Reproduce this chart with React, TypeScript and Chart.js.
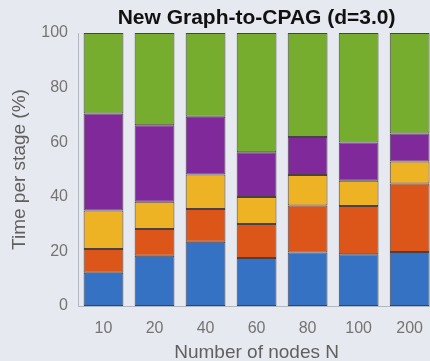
import { useEffect, useRef } from 'react';
import { Chart, registerables } from 'chart.js';

Chart.register(...registerables);

// Share of run time spent in each pipeline stage, per graph size N
const nodeCounts = ['10', '20', '40', '60', '80', '100', '200'];
const stage1 = [12.2, 18.4, 23.5, 17.6, 19.6, 19.0, 19.8];
const stage2 = [8.7, 9.8, 12.0, 12.4, 17.2, 17.6, 25.1];
const stage3 = [14.1, 10.0, 12.7, 9.9, 11.2, 9.3, 8.0];
const stage4 = [35.5, 28.0, 21.1, 16.4, 13.9, 14.0, 10.3];
const stage5 = [29.5, 33.8, 30.7, 43.7, 38.1, 40.1, 36.8];
const yTicks = [0, 20, 40, 60, 80, 100];

const chartTitle = 'New Graph-to-CPAG (d=3.0)';
const xTitle = 'Number of nodes N';
const yTitle = 'Time per stage (%)';

const BG = '#e6e9ef';
const FONT = '"Liberation Sans", Arial, sans-serif';
const W = 436;
const H = 364;
const AXIS_Y = 306;

// Title centred over the plot area rather than the whole canvas
const plotTitle = {
  id: 'plotTitle',
  afterDraw(chart: any) {
    const { ctx, chartArea } = chart;
    ctx.save();
    ctx.font = `bold 21px ${FONT}`;
    ctx.fillStyle = '#111111';
    ctx.textAlign = 'center';
    ctx.textBaseline = 'middle';
    ctx.fillText(chartTitle, (chartArea.left + chartArea.right) / 2, 18.5);
    ctx.restore();
  },
};

export default function App() {
  const canvasRef = useRef<HTMLCanvasElement | null>(null);

  useEffect(() => {
    if (!canvasRef.current) return;
    const mk = (label: string, data: number[], color: string) => ({
      label,
      data,
      backgroundColor: color,
      borderColor: 'rgba(45,35,40,0.85)',
      borderWidth: 1,
      borderSkipped: false,
      barPercentage: 0.78,
      categoryPercentage: 1,
    });
    const chart = new Chart(canvasRef.current, {
      type: 'bar',
      data: {
        labels: nodeCounts,
        datasets: [
          mk('Stage 1', stage1, '#3572c4'),
          mk('Stage 2', stage2, '#dc5619'),
          mk('Stage 3', stage3, '#eeb324'),
          mk('Stage 4', stage4, '#80299a'),
          mk('Stage 5', stage5, '#77ad2e'),
        ],
      },
      options: {
        responsive: false,
        animation: false,
        layout: { padding: { top: 33, left: 0, right: 0, bottom: 0 } },
        plugins: {
          legend: { display: false },
          title: { display: false },
          tooltip: { enabled: false },
        },
        scales: {
          x: {
            stacked: true,
            grid: { display: false, drawTicks: false },
            border: { display: true, color: '#b3b7bf' },
            ticks: {
              color: '#747474',
              font: { family: FONT, size: 16 },
              padding: 13,
            },
            title: {
              display: true,
              text: xTitle,
              color: '#606060',
              font: { family: FONT, size: 19, lineHeight: 1.2 },
              padding: { top: 0, bottom: 0 },
            },
            afterFit(scale: any) {
              scale.height = H - AXIS_Y;
            },
          },
          y: {
            stacked: true,
            min: 0,
            max: 100,
            afterBuildTicks(scale: any) {
              scale.ticks = yTicks.map((v) => ({ value: v }));
            },
            grid: { display: false, drawTicks: false },
            border: { display: true, color: '#b3b7bf' },
            ticks: {
              color: '#747474',
              font: { family: FONT, size: 16 },
              padding: 10,
            },
            title: {
              display: true,
              text: yTitle,
              color: '#606060',
              font: { family: FONT, size: 19, lineHeight: 1.2 },
              padding: { top: 8, bottom: 0 },
            },
            afterFit(scale: any) {
              scale.width = 78;
            },
          },
        },
      },
      plugins: [plotTitle],
    });
    return () => chart.destroy();
  }, []);

  return (
    <div
      style={{
        position: 'fixed',
        left: 0,
        top: 0,
        width: 430,
        height: 361,
        overflow: 'hidden',
        background: BG,
      }}
    >
      <canvas
        ref={canvasRef}
        width={W}
        height={H}
        style={{ display: 'block', width: W, height: H }}
      />
    </div>
  );
}
